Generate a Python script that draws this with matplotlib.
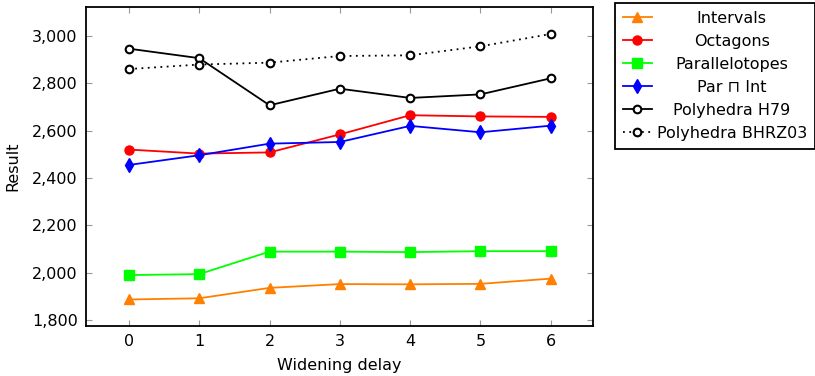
import matplotlib
matplotlib.use("Agg")
import matplotlib.pyplot as plt
from matplotlib.ticker import FuncFormatter

delay = [0, 1, 2, 3, 4, 5, 6]

intervals = [1887, 1892, 1936, 1952, 1951, 1953, 1975]
octagons = [2520, 2503, 2508, 2584, 2665, 2660, 2658]
parallelotopes = [1990, 1994, 2089, 2089, 2087, 2091, 2091]
par_int = [2455, 2496, 2545, 2552, 2620, 2593, 2621]
poly_h79 = [2946, 2906, 2707, 2777, 2738, 2753, 2821]
poly_bhrz03 = [2860, 2879, 2887, 2915, 2918, 2956, 3008]

plt.rcParams["font.family"] = ["DejaVu Sans"]
plt.rcParams["font.size"] = 11.5

fig = plt.figure(figsize=(8.15, 3.76), dpi=100)
ax = fig.add_axes([86 / 815, 50 / 376, (593 - 86) / 815, (326 - 7) / 376])

lw = 1.3
ax.plot(delay, intervals, color="#FF8000", marker="^", markersize=6.5, lw=lw, label="Intervals")
ax.plot(delay, octagons, color="#FF0000", marker="o", markersize=6.5, lw=lw, label="Octagons")
ax.plot(delay, parallelotopes, color="#00FF00", marker="s", markersize=6.5, lw=lw, label="Parallelotopes")
ax.plot(delay, par_int, color="#0000FF", marker="d", markersize=7, lw=lw, label="Par \u2293 Int")
ax.plot(delay, poly_h79, color="black", marker="o", markersize=5.5, markerfacecolor="white",
        markeredgewidth=1.5, lw=lw, label="Polyhedra H79")
ax.plot(delay, poly_bhrz03, color="black", marker="o", markersize=5.5, markerfacecolor="white",
        markeredgewidth=1.5, lw=lw, linestyle=(0, (1, 2.5)), label="Polyhedra BHRZ03")

ax.set_xlim(-0.61, 6.6)
ax.set_ylim(1775, 3122)
ax.set_xticks(delay)
ax.set_yticks([1800, 2000, 2200, 2400, 2600, 2800, 3000])
ax.yaxis.set_major_formatter(FuncFormatter(lambda v, p: f"{int(v):,}"))
ax.tick_params(direction="in", top=True, right=True, length=4, color="#999999",
               labelcolor="black", pad=6)
for s in ax.spines.values():
    s.set_linewidth(1.3)

ax.set_xlabel("Widening delay", labelpad=6.5)
ax.set_ylabel("Result", labelpad=8)

leg = fig.legend(loc="upper left", bbox_to_anchor=(615 / 815, 1 - 3 / 376),
                 fancybox=False, edgecolor="black", framealpha=1,
                 handlelength=1.8, labelspacing=0.5, borderpad=0.5,
                 handletextpad=0.3, borderaxespad=0)
leg.get_frame().set_linewidth(1.3)

# center the legend labels like the original
fig.canvas.draw()
renderer = fig.canvas.get_renderer()
texts = leg.get_texts()
widths = [t.get_window_extent(renderer).width for t in texts]
maxw = max(widths)
for t, w in zip(texts, widths):
    t.set_x((maxw - w) / 2)

fig.savefig("out.png", dpi=100)
